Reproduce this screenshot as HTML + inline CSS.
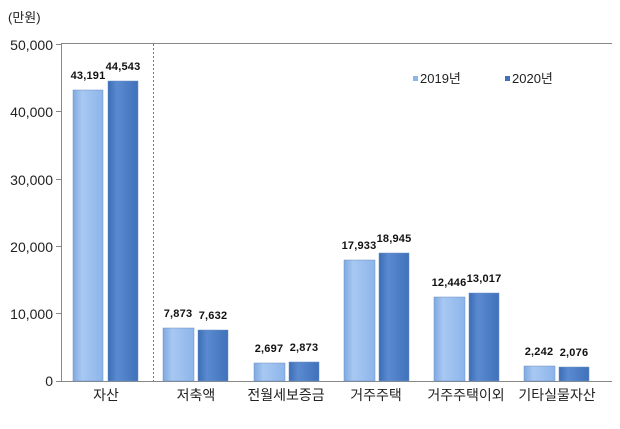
<!DOCTYPE html>
<html><head><meta charset="utf-8"><style>
body{margin:0;background:#fff;}
svg text{font-family:"Liberation Sans","Noto Sans CJK KR",sans-serif;}
</style></head><body>
<svg width="620" height="424" xmlns="http://www.w3.org/2000/svg">
<defs>
<linearGradient id="a" x1="0" x2="1"><stop offset="0" stop-color="#7fa9e0"/><stop offset="0.3" stop-color="#a8c8f2"/><stop offset="1" stop-color="#8db5ea"/></linearGradient>
<linearGradient id="b" x1="0" x2="1"><stop offset="0" stop-color="#3a6db5"/><stop offset="0.3" stop-color="#5b8ad0"/><stop offset="1" stop-color="#3f72bb"/></linearGradient>
</defs>
<text x="8" y="22" font-size="13" fill="#222">(만원)</text>
<g font-size="14" fill="#222" text-anchor="end">
<text x="53" y="50">50,000</text><text x="53" y="117">40,000</text><text x="53" y="185">30,000</text>
<text x="53" y="252">20,000</text><text x="53" y="319">10,000</text><text x="53" y="386">0</text>
</g>
<g stroke="#888" stroke-width="1">
<line x1="61.5" y1="43" x2="61.5" y2="381"/>
<line x1="61" y1="43.5" x2="612" y2="43.5"/>
<line x1="61" y1="381.5" x2="612" y2="381.5"/>
<line x1="56" y1="44.5" x2="61" y2="44.5"/><line x1="56" y1="111.5" x2="61" y2="111.5"/><line x1="56" y1="179.5" x2="61" y2="179.5"/>
<line x1="56" y1="246.5" x2="61" y2="246.5"/><line x1="56" y1="313.5" x2="61" y2="313.5"/><line x1="56" y1="381.5" x2="61" y2="381.5"/>
</g>
<line x1="153.5" y1="44" x2="153.5" y2="381" stroke="#777" stroke-dasharray="2,2"/>
<g stroke="#6a8fc0" stroke-width="0.5">
<rect x="73" y="90" width="30" height="291" fill="url(#a)"/><rect x="108" y="81" width="30" height="300" fill="url(#b)"/>
<rect x="163" y="328" width="31" height="53" fill="url(#a)"/><rect x="198" y="330" width="30" height="51" fill="url(#b)"/>
<rect x="254" y="363" width="31" height="18" fill="url(#a)"/><rect x="289" y="362" width="30" height="19" fill="url(#b)"/>
<rect x="344" y="260" width="31" height="121" fill="url(#a)"/><rect x="379" y="253" width="30" height="128" fill="url(#b)"/>
<rect x="434" y="297" width="31" height="84" fill="url(#a)"/><rect x="469" y="293" width="30" height="88" fill="url(#b)"/>
<rect x="524" y="366" width="31" height="15" fill="url(#a)"/><rect x="559" y="367" width="30" height="14" fill="url(#b)"/>
</g>
<g font-size="11" font-weight="bold" fill="#111" text-anchor="middle" letter-spacing="0.2">
<text x="88" y="79">43,191</text><text x="123" y="70">44,543</text>
<text x="178" y="317">7,873</text><text x="213" y="319">7,632</text>
<text x="269" y="352">2,697</text><text x="304" y="351">2,873</text>
<text x="359" y="249">17,933</text><text x="394" y="242">18,945</text>
<text x="449" y="286">12,446</text><text x="484" y="282">13,017</text>
<text x="539" y="355">2,242</text><text x="574" y="356">2,076</text>
</g>
<g font-size="14" fill="#222" text-anchor="middle">
<text x="106" y="400">자산</text><text x="196" y="400">저축액</text><text x="286" y="400">전월세보증금</text>
<text x="376" y="400">거주주택</text><text x="466" y="400">거주주택이외</text><text x="557" y="400">기타실물자산</text>
</g>
<rect x="413" y="76" width="5" height="5" fill="#8db5ea"/>
<text x="420" y="83" font-size="13" fill="#222">2019년</text>
<rect x="505" y="76" width="5" height="5" fill="#3f72bb"/>
<text x="512" y="83" font-size="13" fill="#222">2020년</text>
</svg>
</body></html>
